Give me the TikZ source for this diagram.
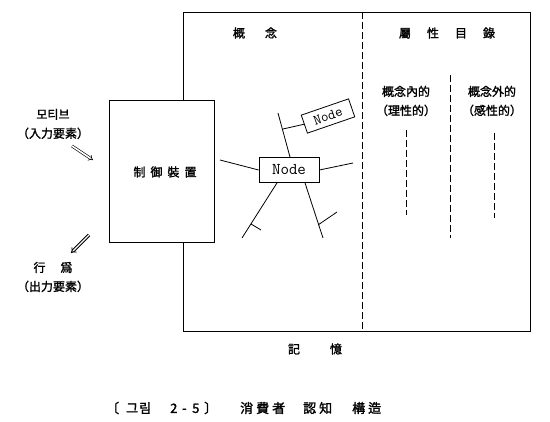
\documentclass[tikz,border=0pt]{standalone}
\usepackage{fontspec}
\newfontfamily\kr[AutoFakeBold=1.6]{Noto Sans CJK KR}
\usetikzlibrary{arrows.meta}
\begin{document}
\begin{tikzpicture}[x=1pt,y=-1pt,
  lbl/.style={font=\kr\bfseries\fontsize{12}{14}\selectfont, inner sep=0pt, align=center},
  nodebox/.style={draw, fill=white, line width=0.8pt, font=\ttfamily\fontsize{16.5}{18}\selectfont, inner sep=0pt, minimum height=25, minimum width=60},
  frame/.style={line width=0.9pt},
  dsh/.style={line width=0.9pt, dash pattern=on 7pt off 3pt},
  br/.style={line width=0.8pt}]
\useasboundingbox (0,0) rectangle (550,422);
% outer memory box
\coordinate (ftl) at (183,12);
\coordinate (fbr) at (530,331);
\draw[frame] (ftl) rectangle (fbr);
% controller box
\node[draw, fill=white, frame, minimum width=105, minimum height=142, inner sep=0pt, anchor=north west] (ctrl) at (109,100) {};
\node[lbl] (ctrlt) at (165,172) {制\hspace{5pt}御\hspace{5pt}裝\hspace{5pt}置};
% dashed separators
\coordinate (d1t) at (362,12);
\coordinate (d1b) at (362,331);
\draw[dsh] (d1t) -- (d1b);
\coordinate (d2t) at (450,75);
\coordinate (d2b) at (450,238);
\draw[dsh] (d2t) -- (d2b);
\coordinate (d3t) at (406,130);
\coordinate (d3b) at (406,215);
\draw[dsh] (d3t) -- (d3b);
\coordinate (d4t) at (494,133);
\coordinate (d4b) at (494,218);
\draw[dsh] (d4t) -- (d4b);
% headings
\node[lbl] (gn) at (255,33) {概\hspace{20pt}念};
\node[lbl] (sx) at (447,33) {屬\hspace{16pt}性\hspace{16pt}目\hspace{16pt}錄};
\node[lbl] (in1) at (406,101) {概念內的\\[5pt]（理性的）};
\node[lbl] (out1) at (492,101) {概念外的\\[5pt]（感性的）};
\node[lbl] (mem) at (315,349) {記\hspace{30pt}憶};
% left labels
\node[lbl] (motive) at (53,124) {모티브\\[5pt]（入力要素）};
\node[lbl] (act) at (53,277) {行\hspace{15pt}爲\\[5pt]（出力要素）};
\coordinate (a1s) at (72,146);
\coordinate (a1e) at (93,160);
\draw[double, double distance=1.6pt, line width=0.6pt, -{Implies}] (a1s) -- (a1e);
\coordinate (a2s) at (89,235);
\coordinate (a2e) at (71,253);
\draw[double, double distance=1.4pt, line width=0.9pt, -{Implies}] (a2s) -- (a2e);
% nodes network
\node[nodebox] (n1) at (289,170) {Node};
\node[nodebox, rotate=19, minimum width=50, minimum height=19, font=\ttfamily\fontsize{14.5}{16}\selectfont] (n2) at (328,116) {Node};
\coordinate (l1) at (220,160);
\draw[br] (l1) -- (n1.west);
\coordinate (r1) at (353,163);
\draw[br] (n1.east) -- (r1);
\coordinate (up) at (278,113);
\draw[br] (up) -- ([xshift=1]n1.north);
\coordinate (b2) at (283,129);
\draw[br] (b2) -- (n2.west);
\coordinate (dl) at (242,238);
\draw[br] ([xshift=-12]n1.south) -- (dl);
\coordinate (t1a) at (251,224);
\coordinate (t1b) at (261,230);
\draw[br] (t1a) -- (t1b);
\coordinate (dr) at (323,238);
\draw[br] ([xshift=16]n1.south) -- (dr);
\coordinate (t2a) at (318,225);
\coordinate (t2b) at (337,212);
\draw[br] (t2a) -- (t2b);
% caption
\node[lbl, anchor=west, font=\kr\bfseries\fontsize{13}{15}\selectfont] (cap) at (106,408) {\makebox[20pt][l]{〔}\makebox[13pt][l]{그}\makebox[31pt][l]{림}\makebox[12pt][l]{2}\makebox[10pt][l]{-}\makebox[12pt][l]{5}\makebox[36pt][l]{〕}\makebox[16pt][l]{消}\makebox[16pt][l]{費}\makebox[31pt][l]{者}\makebox[16pt][l]{認}\makebox[33pt][l]{知}\makebox[16pt][l]{構}造};
\end{tikzpicture}
\end{document}
